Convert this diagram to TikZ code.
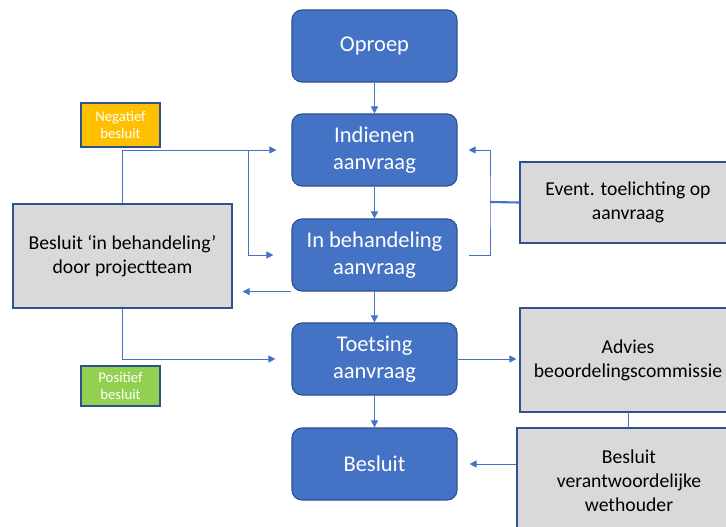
\documentclass[tikz,border=0pt]{standalone}
\usepackage{fontspec}
\setmainfont{Carlito}
\usetikzlibrary{arrows.meta}
\definecolor{boxblue}{HTML}{4472C4}
\definecolor{edgeblue}{HTML}{2F528F}
\definecolor{boxgray}{HTML}{D9D9D9}
\definecolor{negorange}{HTML}{FFC000}
\definecolor{posgreen}{HTML}{92D050}
\begin{document}
\begin{tikzpicture}[x=0.025cm,y=-0.025cm,
  stap/.style={draw=edgeblue,fill=boxblue,rounded corners=0.25cm,text=white,line width=0.8pt,
    minimum width=4.125cm,minimum height=1.8cm,align=center,font=\fontsize{16}{19.5}\selectfont},
  grijs/.style={draw=edgeblue,fill=boxgray,line width=0.8pt,align=center,font=\fontsize{14}{17}\selectfont},
  klein/.style={draw=edgeblue,text=white,line width=0.8pt,minimum width=1.975cm,align=center,
    font=\fontsize{10.5}{12.5}\selectfont},
  lijn/.style={draw=boxblue,line width=0.7pt},
  pijl/.style={lijn,-{Triangle[length=5pt,width=5pt]}}]
\clip (0,0) rectangle (726,527);
% hoofdlijn
\node[stap] (oproep) at (374.5,46) {Oproep};
\node[stap] (indienen) at (374.5,150) {Indienen\\aanvraag};
\node[stap] (behandeling) at (374.5,255) {In behandeling\\aanvraag};
\node[stap] (toetsing) at (374.5,359) {Toetsing\\aanvraag};
\node[stap] (besluit) at (374.5,464) {Besluit};
% links
\node[grijs,minimum width=5.475cm,minimum height=2.6cm] (projectteam) at (122.5,256) {Besluit ‘in behandeling’\\door projectteam};
\node[klein,fill=negorange,minimum height=1.1cm] (negatief) at (120.5,125) {Negatief\\besluit};
\node[klein,fill=posgreen,minimum height=1cm] (positief) at (120.5,386) {Positief\\besluit};
% rechts
\node[grijs,minimum width=5.4cm,minimum height=2.025cm] (toelichting) at (628,202.5) {Event. toelichting op\\aanvraag};
\node[grijs,minimum width=5.4cm,minimum height=2.6cm] (advies) at (628,360) {Advies\\beoordelingscommissie};
\node[grijs,minimum width=5.6cm,minimum height=2.65cm] (wethouder) at (629,481) {Besluit\\verantwoordelijke\\wethouder};
\coordinate (splits) at (248,150);
\coordinate (haak) at (490,202);
% verbindingen
\draw[pijl] (oproep) -- (indienen);
\draw[pijl] (indienen) -- (behandeling);
\draw[pijl] (behandeling) -- (toetsing);
\draw[pijl] (toetsing) -- (besluit);
\draw[pijl,shorten >=0.375cm] (projectteam.north) |- (indienen.west);
\draw[pijl,shorten >=0.45cm] (splits) |- (behandeling.west);
\draw[pijl,shorten >=0.25cm] (behandeling.south west) -- (behandeling.south west -| projectteam.east);
\draw[pijl,shorten >=0.4cm] (projectteam.south) |- (toetsing.west);
\draw[pijl,shorten <=0.275cm,shorten >=0.275cm] (behandeling.east) -| (haak) |- (indienen.east);
\draw[lijn,line width=1.5pt] (toelichting.west) -- (haak);
\draw[pijl,shorten >=0.075cm] (toetsing.east) -- (toetsing.east -| advies.west);
\draw[lijn] (advies.south) -- (advies.south |- wethouder.north);
\draw[pijl,shorten >=0.3cm] (wethouder.west |- besluit.east) -- (besluit.east);
\end{tikzpicture}
\end{document}
